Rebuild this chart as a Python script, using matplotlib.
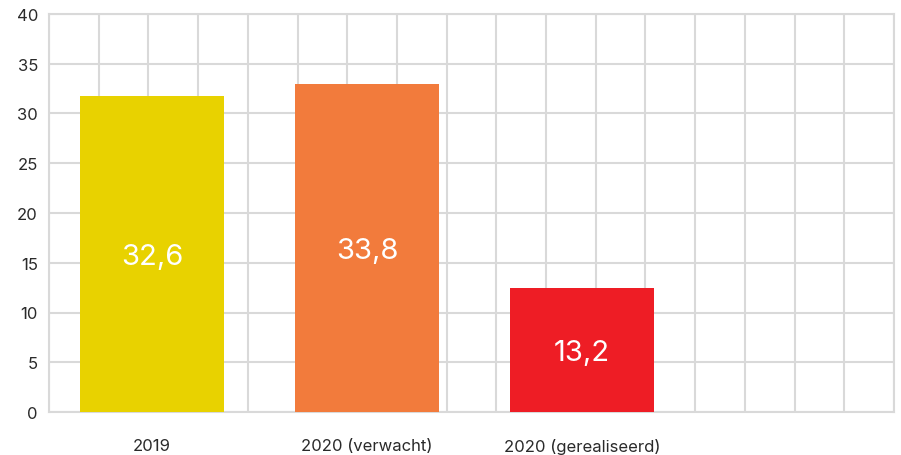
import matplotlib
matplotlib.use("Agg")
import matplotlib.pyplot as plt
import numpy as np

categories = ["2019", "2020 (verwacht)", "2020 (gerealiseerd)"]
bar_heights = [31.8, 33.0, 12.5]
value_labels = ["32,6", "33,8", "13,2"]
colors = ["#E8D200", "#F27B3C", "#EE1D25"]
y_ticks = [0, 5, 10, 15, 20, 25, 30, 35, 40]

plt.rcParams['font.family'] = ['Inter', 'DejaVu Sans']

fig = plt.figure(figsize=(9.01, 4.56), dpi=100)
ax = fig.add_axes([49/901, 43/456, 845/901, 398/456])

x = np.arange(len(categories))
bars = ax.bar(x, bar_heights, width=0.67, color=colors, zorder=3)
for xi, h, lab in zip(x, bar_heights, value_labels):
    ax.text(xi, h/2, lab, ha='center', va='center_baseline', color='white', fontsize=21, zorder=4)

xmin, xmax = -0.479, 3.451
ax.set_xlim(xmin, xmax)
ax.set_ylim(0, 40)
ax.set_yticks(y_ticks)
ax.set_yticklabels([str(t) for t in y_ticks])
ax.set_xticks(x)
ax.set_xticklabels(categories)
ax.set_xticks(np.linspace(xmin, xmax, 18), minor=True)
ax.tick_params(axis='both', which='both', length=0, colors='#2a2a2a', labelsize=12)
ax.tick_params(axis='x', pad=19)
ax.tick_params(axis='y', pad=8)
grid_c = '#D9D9D9'
ax.grid(axis='y', which='major', color=grid_c, linewidth=1.5, zorder=0)
ax.grid(axis='x', which='minor', color=grid_c, linewidth=1.5, zorder=0)
ax.grid(axis='x', which='major', visible=False)
for s in ax.spines.values():
    s.set_color(grid_c)
    s.set_linewidth(1.5)

fig.savefig("out.png", dpi=100)
